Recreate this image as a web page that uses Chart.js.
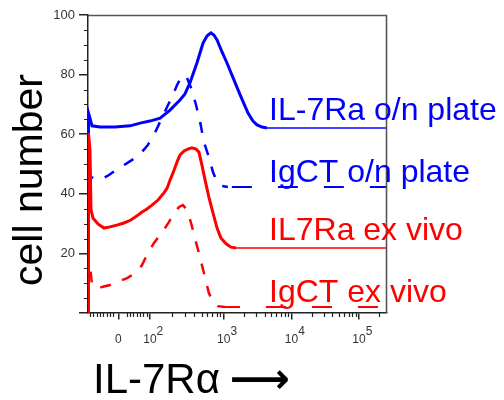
<!DOCTYPE html>
<html><head><meta charset="utf-8">
<script src="https://cdn.jsdelivr.net/npm/chart.js@4.4.0/dist/chart.umd.min.js"></script>
<style>html,body{margin:0;padding:0;background:#fff;}canvas{display:block;}</style>
</head><body>
<canvas id="c" width="504" height="400"></canvas>
<script>
// x values: display channels of the logicle axis (0-1024); y: cell number (% of max)
const seriesNames = ['IL7Ra ex vivo', 'IgCT ex vivo', 'IL-7Ra o/n plate', 'IgCT o/n plate'];
const seriesColors = ['#ff0000', '#ff0000', '#0000ff', '#0000ff'];
const seriesDashed = [false, true, false, true];

const il7raExVivoX = [0,1.7,6.8,10.3,17,34,55,75,99,123,147,168,185,202,219,240,260,271,281,295,305,315,329,342,356,370,380,390,401,414,428,442,455,473,490,507,1024];
const il7raExVivoY = [0,60.4,54.7,34.6,31.9,29.9,28.5,28.9,29.5,30.2,31.2,32.6,33.9,34.9,36.2,37.9,40.3,41.9,44.6,48.0,50.7,53.0,54.4,55.0,55.4,55.0,54.0,49.7,44.6,38.9,33.6,28.5,25.2,23.2,22.1,21.8,21.8];

const igctExVivoX = [0,1.7,6.8,13.7,24,48,75,99,134,168,185,202,226,247,260,277,295,312,325,339,353,366,380,397,414,428,445,469,1024];
const igctExVivoY = [0,18.5,16.1,9.4,8.4,8.7,9.4,10.4,11.7,13.8,16.1,19.5,23.5,26.2,27.9,30.5,33.6,35.6,36.2,34.6,30.2,25.2,20.1,13.4,6.7,3.7,2.3,2.0,2.0];

const il7raPlateX = [0,1.7,6.8,13.7,41,92,144,182,212,247,281,315,332,349,373,394,408,421,431,442,459,476,497,521,548,565,579,596,613,1024];
const il7raPlateY = [0,67.1,65.4,62.8,62.4,62.4,62.8,63.8,64.4,65.4,68.1,71.5,73.5,77.2,83.9,90.6,93.0,94.0,93.3,91.6,87.6,83.9,78.9,73.2,67.1,64.4,63.1,62.4,62.1,62.1];

const igctPlateX = [0,1.7,10.3,27,48,72,96,134,161,182,205,229,253,274,288,305,318,329,339,356,370,384,397,414,428,442,459,479,1024];
const igctPlateY = [0,47.3,45.6,45.0,45.0,46.3,48.0,50.3,52.0,53.7,56.4,60.4,65.4,69.8,72.5,76.5,78.9,79.9,78.9,74.8,69.8,64.1,57.4,52.3,47.3,44.0,42.6,42.3,42.3];

const seriesX = [il7raExVivoX, igctExVivoX, il7raPlateX, igctPlateX];
const seriesY = [il7raExVivoY, igctExVivoY, il7raPlateY, igctPlateY];

// series label anchors (x channel, y value of baseline)
const labelX = [620, 620, 620, 620];
const labelY = [24.5, 3.7, 64.8, 44.0];

// axis ticks
const yMajorTicks = [0, 20, 40, 60, 80, 100];
const yMinorStep = 5;
const xMajorTicks = [104, 212, 465, 697, 928];
const xMajorBase = ['0', '10', '10', '10', '10'];
const xMajorExp = ['', '2', '3', '4', '5'];
const xLinearMinorTicks = [7, 18, 30, 41, 52, 64, 75, 87, 132, 144, 155, 167, 178, 189, 201];
const logMultipliers = [2, 3, 4, 5, 6, 7, 8, 9];

const X_MAX = 1024;
const FONT = '"Liberation Sans", Arial, sans-serif';

function xMinorTicks() {
  const out = xLinearMinorTicks.slice();
  for (let k = 1; k < xMajorTicks.length; k++) {
    const a = xMajorTicks[k];
    const b = k + 1 < xMajorTicks.length ? xMajorTicks[k + 1] : a + (a - xMajorTicks[k - 1]);
    for (const m of logMultipliers) {
      const v = a + Math.log10(m) * (b - a);
      if (v <= X_MAX) out.push(v);
    }
  }
  return out;
}

const datasets = seriesNames.map((name, i) => {
  const last = seriesX[i].length - 1;
  return {
    label: name,
    data: seriesX[i].map((x, j) => ({x, y: seriesY[i][j]})),
    borderColor: seriesColors[i],
    borderWidth: seriesDashed[i] ? 2.5 : 3,
    borderDash: seriesDashed[i] ? [11, 12] : [],
    pointRadius: 0,
    tension: 0,
    fill: false,
    segment: {
      borderWidth: ctx => ctx.p1DataIndex === last ? (seriesDashed[i] ? 2 : 1.5) : undefined,
      borderDash: ctx => (ctx.p1DataIndex === last && seriesDashed[i]) ? [20, 26] : undefined,
      borderDashOffset: ctx => (ctx.p1DataIndex === last && seriesDashed[i]) ? (i === 1 ? 5 : 42) : undefined
    }
  };
});

const decor = {
  id: 'decor',
  afterDraw(chart) {
    const ctx = chart.ctx;
    const xs = chart.scales.x, ys = chart.scales.y;
    const a = chart.chartArea;
    ctx.save();
    // frame top / right
    ctx.strokeStyle = '#555';
    ctx.lineWidth = 1.6;
    ctx.beginPath();
    ctx.moveTo(a.left, a.top + 0.5);
    ctx.lineTo(a.right - 0.5, a.top + 0.5);
    ctx.lineTo(a.right - 0.5, a.bottom);
    ctx.stroke();
    // minor ticks
    ctx.strokeStyle = '#222';
    ctx.lineWidth = 1.2;
    ctx.beginPath();
    for (let v = yMinorStep; v < 100; v += yMinorStep) {
      if (yMajorTicks.includes(v)) continue;
      const y = Math.round(ys.getPixelForValue(v)) + 0.5;
      ctx.moveTo(a.left - 4, y); ctx.lineTo(a.left, y);
    }
    for (const v of xMinorTicks()) {
      const x = Math.round(xs.getPixelForValue(v)) + 0.5;
      ctx.moveTo(x, a.bottom); ctx.lineTo(x, a.bottom + 4);
    }
    ctx.stroke();
    // x tick labels with exponents
    ctx.fillStyle = '#333';
    ctx.font = '12px ' + FONT;
    ctx.textBaseline = 'alphabetic';
    xMajorTicks.forEach((v, i) => {
      const x = xs.getPixelForValue(v);
      const w = ctx.measureText(xMajorBase[i]).width;
      ctx.textAlign = 'left';
      ctx.fillText(xMajorBase[i], x - w / 2, a.bottom + 30);
      if (xMajorExp[i]) ctx.fillText(xMajorExp[i], x + w / 2, a.bottom + 22);
    });
    // series labels
    ctx.font = '32px ' + FONT;
    ctx.textAlign = 'left';
    seriesNames.forEach((n, i) => {
      ctx.fillStyle = seriesColors[i];
      ctx.fillText(n, xs.getPixelForValue(labelX[i]), ys.getPixelForValue(labelY[i]));
    });
    // axis titles
    ctx.fillStyle = '#000';
    ctx.font = '41px ' + FONT;
    ctx.save();
    ctx.translate(a.left - 46, a.bottom - 27);
    ctx.rotate(-Math.PI / 2);
    ctx.fillText('cell number', 0, 0);
    ctx.restore();
    ctx.font = '42px ' + FONT;
    const t = 'IL-7R\u03b1 ';
    ctx.fillText(t, a.left + 5, a.bottom + 80);
    const tw = ctx.measureText(t).width;
    ctx.font = 'bold 42px "DejaVu Sans", sans-serif';
    ctx.fillText('\u27f6', a.left + 3 + tw, a.bottom + 80);
    ctx.restore();
  }
};

new Chart(document.getElementById('c'), {
  type: 'line',
  data: {datasets},
  options: {
    responsive: false,
    animation: false,
    devicePixelRatio: 1,
    layout: {padding: {left: 0, top: 15, right: 117, bottom: 0}},
    plugins: {legend: {display: false}, tooltip: {enabled: false}},
    scales: {
      x: {
        type: 'linear', min: 0, max: X_MAX,
        afterBuildTicks: s => { s.ticks = xMajorTicks.map(v => ({value: v})); },
        afterFit: s => { s.height = 87; },
        ticks: {callback: () => '', autoSkip: false},
        grid: {drawOnChartArea: false, tickLength: 6.5, color: '#222', lineWidth: 1.5},
        border: {display: true, color: '#222', width: 1.5}
      },
      y: {
        type: 'linear', min: 0, max: 100,
        afterBuildTicks: s => { s.ticks = yMajorTicks.map(v => ({value: v})); },
        afterFit: s => { s.width = 88; },
        ticks: {callback: v => v === 0 ? '' : String(v), padding: 4, color: '#333', font: {family: FONT, size: 13}},
        grid: {drawOnChartArea: false, tickLength: 9, color: '#222', lineWidth: 1.5},
        border: {display: true, color: '#222', width: 1.5}
      }
    }
  },
  plugins: [decor]
});
</script>
</body></html>
